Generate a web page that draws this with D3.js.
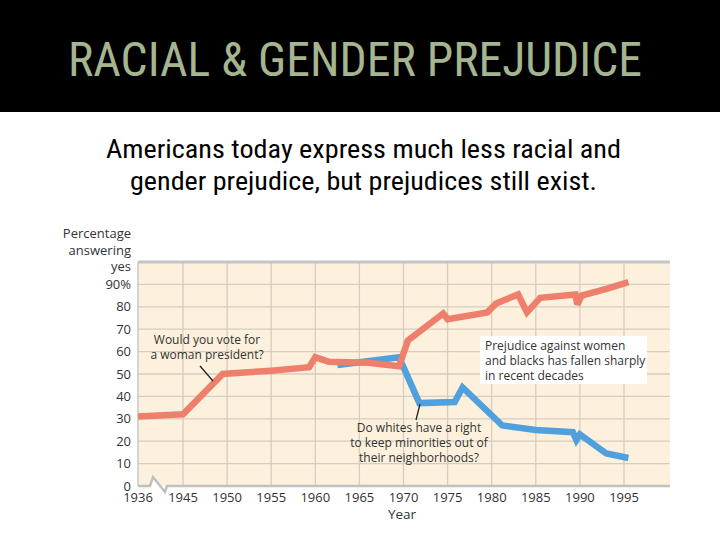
<!DOCTYPE html>
<html><head><meta charset="utf-8">
<script src="https://cdn.jsdelivr.net/npm/d3@7"></script>
<style>body{margin:0;background:#fff}svg{display:block}</style>
</head><body>
<script>
const title = "RACIAL & GENDER PREJUDICE";
const subtitle = ["Americans today express much less racial and", "gender prejudice, but prejudices still exist."];
const yAxisTitle = ["Percentage", "answering", "yes"];
const xTicks = [1936, 1945, 1950, 1955, 1960, 1965, 1970, 1975, 1980, 1985, 1990, 1995];
const yTicks = [0, 10, 20, 30, 40, 50, 60, 70, 80, 90];
const womanYears  = [1936, 1945, 1949.5, 1955, 1959.3, 1960, 1961.5, 1966, 1969.5, 1970.5, 1974.5, 1975, 1979.5, 1980.5, 1983, 1984, 1985.5, 1989.5, 1989.7, 1990.2, 1993, 1995.5];
const womanValues = [31, 32, 50, 51.5, 53, 57.5, 55.5, 55, 53.5, 65, 77, 74.5, 77.5, 81.5, 85.5, 77.5, 84, 85.5, 81, 85, 88, 91];
const whitesYears  = [1962.5, 1969.5, 1971.8, 1975.8, 1976.7, 1981.2, 1985, 1989.2, 1989.6, 1990, 1993, 1995.5];
const whitesValues = [54, 57.5, 37, 37.5, 44, 27, 25, 24, 20.5, 23, 14.5, 12.5];
const noteWoman = ["Would you vote for", "a woman president?"];
const noteWhites = ["Do whites have a right", "to keep minorities out of", "their neighborhoods?"];
const noteBox = ["Prejudice against women", "and blacks has fallen sharply", "in recent decades"];

const W = 720, H = 540;
const svg = d3.select("body").append("svg").attr("width", W).attr("height", H);

// header band
svg.append("rect").attr("x",0).attr("y",0).attr("width",W).attr("height",112).attr("fill","#000");
svg.append("text").attr("x",68).attr("y",76).attr("textLength",574).attr("lengthAdjust","spacingAndGlyphs")
  .attr("font-family","'Liberation Sans Narrow','Roboto Condensed','Liberation Sans',Arial,sans-serif")
  .attr("font-size",48).attr("fill","#a4b590").text(title);
subtitle.forEach((s,i)=>{
  const widths=[515,467], xs=[106,130];
  svg.append("text").attr("x",xs[i]).attr("y",158+i*32).attr("textLength",widths[i]).attr("lengthAdjust","spacingAndGlyphs")
    .attr("font-family","'Liberation Sans Narrow','Roboto Condensed','Liberation Sans',Arial,sans-serif")
    .attr("font-size",25.5).attr("fill","#000").text(s);
});

const x = d3.scaleLinear().domain([1936,1945,1995]).range([138,183,624]);
const y = d3.scaleLinear().domain([0,100]).range([486,262]);
const xRight = x(2000.2);
const font = "'Open Sans','Noto Sans',sans-serif";
const txtCol = "#333";

// plot background
svg.append("rect").attr("x",x(1936)).attr("y",y(100)).attr("width",xRight-x(1936)).attr("height",y(0)-y(100)).attr("fill","#fdf1dd");
// grid
const g = svg.append("g");
g.selectAll("line.h").data(yTicks.filter(d=>d>0)).join("line")
  .attr("x1",x(1936)).attr("x2",xRight).attr("y1",d=>y(d)).attr("y2",d=>y(d))
  .attr("stroke","#d6cdbf").attr("stroke-width",1.3);
g.selectAll("line.v").data(xTicks.filter(d=>d>1936)).join("line")
  .attr("x1",d=>x(d)).attr("x2",d=>x(d)).attr("y1",y(100)).attr("y2",y(0))
  .attr("stroke","#d6cdbf").attr("stroke-width",1.3);
// top border
svg.append("line").attr("x1",x(1936)).attr("x2",xRight).attr("y1",y(100)).attr("y2",y(100)).attr("stroke","#c4c4c4").attr("stroke-width",3);
// left axis
svg.append("line").attr("x1",x(1936)).attr("x2",x(1936)).attr("y1",y(100)).attr("y2",y(0)).attr("stroke","#c8c8c8").attr("stroke-width",1.5);
// bottom axis with break
const y0 = y(0);
svg.append("path").attr("d",`M${x(1936)},${y0+1.5}H150L153,${y0-9}L165,${y0+6}L167,${y0+1.5}`).attr("fill","#fff").attr("stroke","none");
svg.append("path").attr("d",`M${x(1936)},${y0}H150L153,${y0-9}L165,${y0+6}L167,${y0}H${xRight}`)
  .attr("fill","none").attr("stroke","#c0c0c0").attr("stroke-width",2.5);

// axis labels
svg.selectAll("text.yt").data(yTicks).join("text").attr("class","yt")
  .attr("x",131).attr("y",d=>y(d)).attr("dy","0.35em").attr("text-anchor","end")
  .attr("font-family",font).attr("font-size",13).attr("fill",txtCol)
  .text(d=>d===90?"90%":d);
yAxisTitle.forEach((s,i)=>svg.append("text").attr("x",131).attr("y",238+i*16.5).attr("text-anchor","end")
  .attr("font-family",font).attr("font-size",13).attr("fill",txtCol).text(s));
svg.selectAll("text.xt").data(xTicks).join("text").attr("class","xt")
  .attr("x",d=>x(d)).attr("y",502).attr("text-anchor","middle")
  .attr("font-family",font).attr("font-size",13).attr("fill",txtCol).text(d=>d);
svg.append("text").attr("x",402).attr("y",519).attr("text-anchor","middle")
  .attr("font-family",font).attr("font-size",13.5).attr("fill",txtCol).text("Year");

// lines
const line = d3.line().x(d=>x(d[0])).y(d=>y(d[1]));
svg.append("path").datum(whitesYears.map((t,i)=>[t,whitesValues[i]])).attr("d",line)
  .attr("fill","none").attr("stroke","#4fa0dc").attr("stroke-width",6.5).attr("stroke-linejoin","miter").attr("stroke-miterlimit",3);
svg.append("path").datum(womanYears.map((t,i)=>[t,womanValues[i]])).attr("d",line)
  .attr("fill","none").attr("stroke","#ee7f6d").attr("stroke-width",6.5).attr("stroke-linejoin","miter").attr("stroke-miterlimit",3);

// annotations
noteWoman.forEach((s,i)=>svg.append("text").attr("x",207).attr("y",344+i*15).attr("text-anchor","middle")
  .attr("font-family",font).attr("font-size",12).attr("fill",txtCol).text(s));
svg.append("line").attr("x1",200).attr("y1",366).attr("x2",213).attr("y2",381).attr("stroke","#222").attr("stroke-width",1.3);

noteWhites.forEach((s,i)=>svg.append("text").attr("x",419).attr("y",432+i*15).attr("text-anchor","middle")
  .attr("font-family",font).attr("font-size",12).attr("fill",txtCol).text(s));
svg.append("line").attr("x1",420).attr("y1",404).attr("x2",416).attr("y2",420).attr("stroke","#222").attr("stroke-width",1.3);

svg.append("rect").attr("x",480).attr("y",336).attr("width",167).attr("height",48).attr("fill","#fff");
noteBox.forEach((s,i)=>svg.append("text").attr("x",485).attr("y",350+i*15).attr("text-anchor","start")
  .attr("font-family",font).attr("font-size",12).attr("fill",txtCol).text(s));
</script>
</body></html>
